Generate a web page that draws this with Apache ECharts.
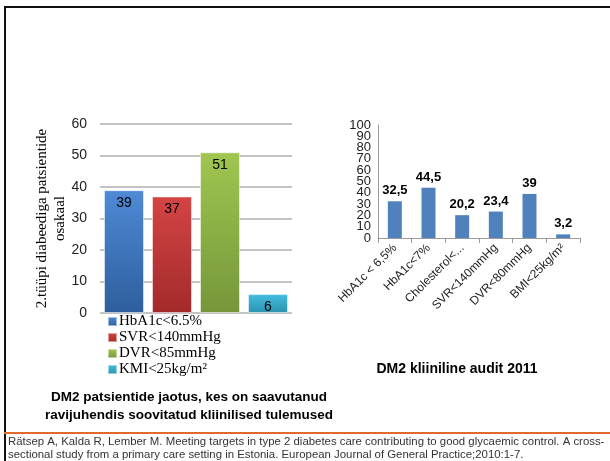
<!DOCTYPE html>
<html><head><meta charset="utf-8">
<script src="https://cdn.jsdelivr.net/npm/echarts@6/dist/echarts.min.js"></script>
<style>html,body{margin:0;padding:0;background:#fff}#c{width:610px;height:461px}</style>
</head><body><div id="c"></div>
<script>
// Left chart: one category, four series
const leftSeriesNames = ['HbA1c<6.5%', 'SVR<140mmHg', 'DVR<85mmHg', 'KMI<25kg/m²'];
const leftValues = [39, 37, 51, 6];
const leftTicks = [0, 10, 20, 30, 40, 50, 60];
// Right chart
const rightCategories = ['HbA1c < 6,5%', 'HbA1c<7%', 'Cholesterol<...', 'SVR<140mmHg', 'DVR<80mmHg', 'BMI<25kg/m²'];
const rightValues = [32.5, 44.5, 20.2, 23.4, 39, 3.2];
const rightTicks = [0, 10, 20, 30, 40, 50, 60, 70, 80, 90, 100];

const leftColors = [
  ['#4f8ad6', '#2e5e9c'],
  ['#d44544', '#a32a2a'],
  ['#a0c650', '#76963a'],
  ['#45bde0', '#2a93b0']
];
function grad(c) {
  return new echarts.graphic.LinearGradient(0, 0, 0, 1, [{offset: 0, color: c[0]}, {offset: 1, color: c[1]}]);
}

const chart = echarts.init(document.getElementById('c'), null, {renderer: 'canvas'});
const series = leftSeriesNames.map((n, i) => ({
  name: n, type: 'bar', xAxisIndex: 0, yAxisIndex: 0,
  data: [leftValues[i]], barWidth: 40, barGap: '20%',
  itemStyle: {color: grad(leftColors[i]), borderColor: 'rgba(255,255,255,0.5)', borderWidth: 1},
  label: {show: true, position: 'insideTop', distance: 6, color: '#000', fontSize: 14, fontFamily: 'Liberation Sans'}
}));
series.push({
  type: 'bar', xAxisIndex: 1, yAxisIndex: 1, data: rightValues, barWidth: 14,
  itemStyle: {color: '#4f81bd'},
  label: {show: true, position: 'top', distance: 4, color: '#000', fontSize: 13, fontWeight: 'bold',
    fontFamily: 'Liberation Sans', formatter: p => String(p.value).replace('.', ',')}
});

const rMin = rightTicks[0], rMax = rightTicks[rightTicks.length - 1];
const rLabelStyle = {fontSize: 13, color: '#222', fontFamily: 'Liberation Sans', margin: 7, hideOverlap: false};

chart.setOption({
  animation: false,
  grid: [
    {left: 100, top: 124, width: 192, height: 189},
    {left: 378, top: 125, width: 202, height: 113}
  ],
  legend: {
    orient: 'vertical', left: 107, top: 314, padding: 0, itemWidth: 9, itemHeight: 9, itemGap: 1,
    icon: 'rect', data: leftSeriesNames,
    textStyle: {fontFamily: 'Liberation Serif', fontSize: 15, color: '#000', padding: [0, 0, 0, -3]}
  },
  xAxis: [
    {gridIndex: 0, type: 'category', data: [''], axisLine: {show: false}, axisTick: {show: false}, axisLabel: {show: false}},
    {gridIndex: 1, type: 'category', data: rightCategories,
      axisLine: {lineStyle: {color: '#9a9a9a'}}, axisTick: {show: true, length: 5, lineStyle: {color: '#9a9a9a'}},
      axisLabel: {rotate: 45, fontSize: 12, color: '#222', fontFamily: 'Liberation Sans', margin: 8, interval: 0}}
  ],
  yAxis: [
    {gridIndex: 0, type: 'value', min: leftTicks[0], max: leftTicks[leftTicks.length - 1], interval: 10,
      axisLine: {show: false}, axisTick: {show: false},
      axisLabel: {fontSize: 14, color: '#222', fontFamily: 'Liberation Sans', margin: 13},
      splitLine: {lineStyle: {color: '#b0b0b0', width: 1.5}},
      name: '2.tüüpi diabeediga patsientide\nosakaal', nameLocation: 'middle', nameGap: 31, nameMoveOverlap: false,
      nameTextStyle: {fontFamily: 'Liberation Serif', fontSize: 15, color: '#000', lineHeight: 18}},
    {gridIndex: 1, type: 'value', min: rMin, max: rMax, interval: 10,
      axisLine: {show: true, lineStyle: {color: '#9a9a9a'}}, axisTick: {show: false},
      axisLabel: Object.assign({}, rLabelStyle, {showMinLabel: true, showMaxLabel: true,
        formatter: v => (v % 20 === 0 ? String(v) : '')}),
      splitLine: {show: false}},
    {gridIndex: 1, type: 'value', min: rMin, max: rMax, interval: 10, position: 'left',
      axisLine: {show: false}, axisTick: {show: false},
      axisLabel: Object.assign({}, rLabelStyle, {formatter: v => (v % 20 === 10 ? String(v) : '')}),
      splitLine: {show: false}}
  ],
  title: [
    {text: 'DM2 patsientide jaotus, kes on saavutanud\nravijuhendis soovitatud kliinilised tulemused',
      left: 184, top: 383, textAlign: 'center',
      textStyle: {fontFamily: 'Liberation Sans', fontWeight: 'bold', fontSize: 13.5, color: '#000', lineHeight: 18}},
    {text: 'DM2 kliiniline audit 2011', left: 452, top: 357, textAlign: 'center',
      textStyle: {fontFamily: 'Liberation Sans', fontWeight: 'bold', fontSize: 14, color: '#000'}}
  ],
  graphic: [
    {type: 'rect', shape: {x: 4, y: 6, width: 606, height: 2}, style: {fill: '#111'}},
    {type: 'rect', shape: {x: 4, y: 6, width: 2, height: 455}, style: {fill: '#111'}},
    {type: 'rect', shape: {x: 4, y: 432, width: 606, height: 2}, style: {fill: '#e0692e'}},
    {type: 'text', left: 8, top: 435, style: {
      text: 'Rätsep A, Kalda R, Lember M. Meeting targets in type 2 diabetes care contributing to good glycaemic control. A cross-\nsectional study from a primary care setting in Estonia. European Journal of General Practice;2010:1-7.',
      font: '11.4px "Liberation Sans"', fill: '#333', lineHeight: 13}}
  ],
  series: series
});
</script></body></html>
